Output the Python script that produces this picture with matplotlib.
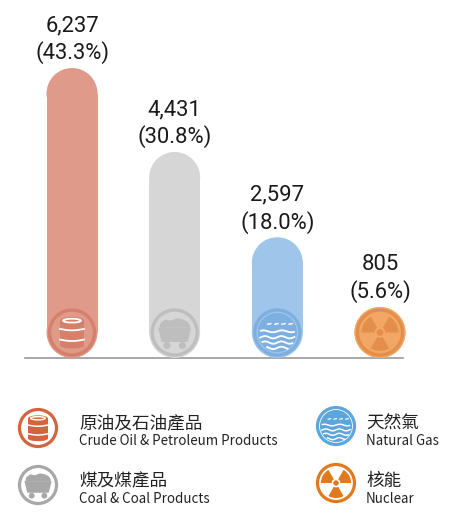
import matplotlib
matplotlib.use('Agg')
import matplotlib.pyplot as plt
from matplotlib.patches import Circle, Ellipse, Rectangle, Wedge, Polygon
import numpy as np

categories_zh = ['原油及石油產品', '煤及煤產品', '天然氣', '核能']
categories_en = ['Crude Oil & Petroleum Products', 'Coal & Coal Products', 'Natural Gas', 'Nuclear']
values = [6237, 4431, 2597, 805]
shares = [43.3, 30.8, 18.0, 5.6]
icons = ['oil', 'coal', 'gas', 'nuclear']

bar_colors = ['#E09A8A', '#D6D6D6', '#9FC5EA', '#F2A766']
icon_on_bar = ['#D4806C', '#BEBEBE', '#7DAFE0', '#E38F4B']
legend_colors = ['#D2643F', '#A8A8A8', '#5CA6DC', '#E07A1F']

W, H = 465, 525
fig = plt.figure(figsize=(W / 100, H / 100), dpi=100)

# main bar axes (pixel layout)
ax_l, ax_r, ax_b, ax_t = 20.7, 431.3, H - 358, H - 20
ax = fig.add_axes([ax_l / W, ax_b / H, (ax_r - ax_l) / W, (ax_t - ax_b) / H])
ymax = values[0] * (ax_t - ax_b) / 290
ax.set_xlim(-0.5, 3.5)
ax.set_ylim(0, ymax)
ax.axis('off')

px_per_x = (ax_r - ax_l) / 4
px_per_y = (ax_t - ax_b) / ymax
bw_px = 51
bw = bw_px / px_per_x
r_y = (bw_px / 2) / px_per_y

ax.plot([-0.458, 3.22], [0, 0], color='#9a9a9a', lw=1.2, zorder=0, clip_on=False)

for i, (v, c) in enumerate(zip(values, bar_colors)):
    top = max(v, 2 * r_y)
    ax.add_patch(Rectangle((i - bw / 2, r_y), bw, top - 2 * r_y, color=c, lw=0, zorder=2))
    ax.add_patch(Ellipse((i, r_y), bw, 2 * r_y, color=c, lw=0, zorder=2))
    ax.add_patch(Ellipse((i, top - r_y), bw, 2 * r_y, color=c, lw=0, zorder=2))
    ax.annotate(f'{v:,}', (i, top), xytext=(0, 42 * 0.72), textcoords='offset points',
                ha='center', va='center', fontsize=15.8, family='Roboto', color='#1a1a1a')
    ax.annotate(f'({shares[i]:.1f}%)', (i, top), xytext=(0, 15 * 0.72), textcoords='offset points',
                ha='center', va='center', fontsize=15.8, family='Roboto', color='#1a1a1a')

# decoration axes in pixel coordinates (y up)
deco = fig.add_axes([0, 0, 1, 1], zorder=5)
deco.set_xlim(0, W)
deco.set_ylim(0, H)
deco.axis('off')
deco.patch.set_alpha(0)


def draw_icon(d, kind, cx, cy, R, col, lw):
    s = R / 19.0
    d.add_patch(Circle((cx, cy), R, fill=False, ec=col, lw=lw))
    wl = max(0.8, 1.1 * s)
    if kind == 'oil':
        d.add_patch(Rectangle((cx - 10 * s, cy - 11 * s), 20 * s, 21 * s, color=col, lw=0))
        d.add_patch(Ellipse((cx, cy + 10 * s), 20 * s, 6 * s, color=col, lw=0))
        d.add_patch(Ellipse((cx, cy - 11 * s), 20 * s, 5 * s, color=col, lw=0))
        d.add_patch(Ellipse((cx, cy + 10 * s), 15 * s, 3.2 * s, fill=False, ec='white', lw=wl))
        for yy in (-6, 3):
            tt = np.linspace(-10, 10, 20)
            d.plot(cx + tt * s, cy + (yy - 1.2 * np.cos(tt / 10 * np.pi / 2)) * s, color='white', lw=wl)
    elif kind == 'coal':
        d.add_patch(Polygon([(cx - 14 * s, cy + 4 * s), (cx + 14 * s, cy + 4 * s),
                             (cx + 11 * s, cy - 8 * s), (cx - 11 * s, cy - 8 * s)], color=col, lw=0))
        lump = [(-13, 4), (-12, 8), (-8, 11), (-3, 10), (2, 12), (7, 11), (11, 9), (13, 6), (13, 4)]
        d.add_patch(Polygon([(cx + a * s, cy + b * s) for a, b in lump], color=col, lw=0))
        d.add_patch(Circle((cx - 6.5 * s, cy - 11 * s), 3.0 * s, color=col, lw=0))
        d.add_patch(Circle((cx + 6.5 * s, cy - 11 * s), 3.0 * s, color=col, lw=0))
    elif kind == 'gas':
        ri = R - 2.5 * s
        d.add_patch(Circle((cx, cy), ri, color=col, lw=0))
        tt = np.linspace(-14, 14, 30)
        d.plot(cx + tt * s, cy + (1.0 + 0.8 * np.sin(tt / 2.5)) * s, color='white', lw=wl)
        for k in (-8, -2, 4, 10):
            d.plot([cx + k * s, cx + (k + 2.5) * s], [cy + 7 * s, cy + 7.5 * s], color='white', lw=wl * 0.8)
        for yy in (-4, -8.5, -13):
            half = np.sqrt(max(ri ** 2 - (yy * s) ** 2, 0)) - 1.5 * s
            xx = np.linspace(-half, half, 40)
            d.plot(cx + xx, cy + yy * s + 1.0 * s * np.sin(xx / (2.2 * s)), color='white', lw=wl)
    elif kind == 'nuclear':
        for c in (150, 30, 270):
            d.add_patch(Wedge((cx, cy), 15.5 * s, c - 30, c + 30, width=11 * s, color=col, lw=0))
        d.add_patch(Circle((cx, cy), 2.8 * s, color=col, lw=0))


fig.canvas.draw()
for i, kind in enumerate(icons):
    bx, by = ax.transData.transform((i, r_y))
    draw_icon(deco, kind, bx, by, 22.5, icon_on_bar[i], 2.4)

# legend
leg_icon = [(38, 428), (38, 485), (336, 426), (336, 483)]
leg_text_x = [79, 79, 366, 366]
leg_zh_y = [424, 481, 424, 481]
leg_en_y = [441, 499, 441, 499]
for i, kind in enumerate(icons):
    cx, cy = leg_icon[i]
    draw_icon(deco, kind, cx, H - cy, 18.5, legend_colors[i], 2.3)
    deco.text(leg_text_x[i], H - leg_zh_y[i], categories_zh[i], fontsize=12.7,
              family=['Noto Sans CJK TC', 'DejaVu Sans'], va='center', ha='left', color='#222222')
    deco.text(leg_text_x[i], H - leg_en_y[i], categories_en[i], fontsize=9.6,
              family=['Noto Sans CJK TC', 'DejaVu Sans'], va='center', ha='left', color='#222222')

fig.savefig('out.png', dpi=100, facecolor='white')
